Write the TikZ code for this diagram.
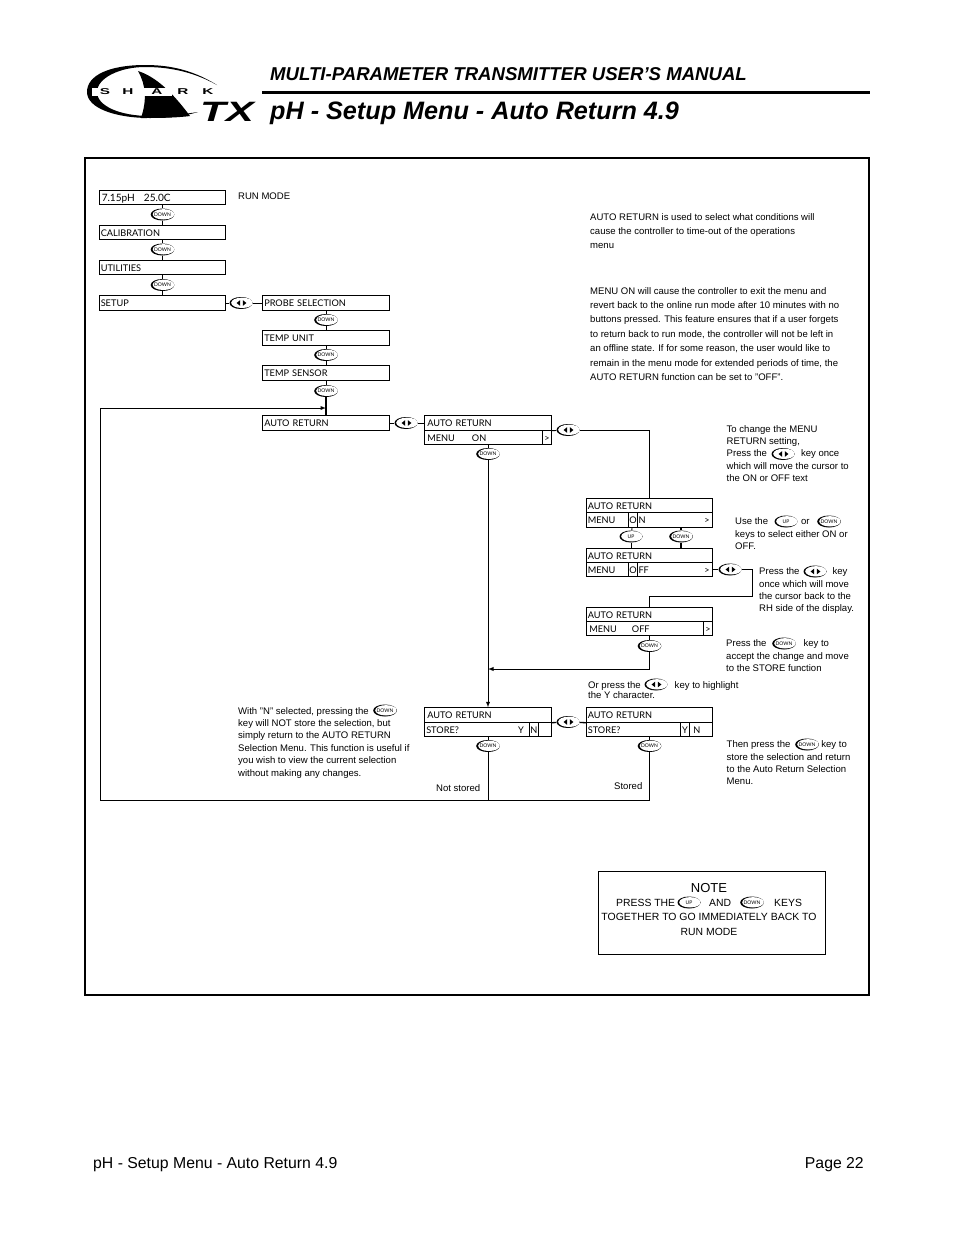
\documentclass[tikz,border=0pt]{standalone}
\usepackage{fontspec}
\setmainfont{Liberation Sans}
\newfontfamily\lcdfont{Lato}
\usetikzlibrary{shapes.geometric,positioning}
\newcommand{\fsize}[2]{\fontsize{#1}{#2}\selectfont}
\begin{document}
\begin{tikzpicture}[x=1pt,y=-1pt]
%%%%%%%%%%%%%%%%%%%%%%%%%%%%%%%%%%%%%%%%%%%%%%%%%%%%%%%%
% STYLE
\tikzstyle{lcd}=[rectangle,draw,line width=0.9,inner xsep=1.5,inner ysep=0,text width=123.5,minimum height=14.5,text height=9.2,text depth=2,font=\lcdfont\fsize{9.2}{11},align=left]
\tikzstyle{cur}=[rectangle,draw,line width=1.1,inner sep=0,minimum width=8.5,minimum height=14.5,text height=9.2,text depth=2,font=\lcdfont\fsize{9.2}{11}]
\tikzstyle{ch}=[inner sep=0,text height=9.2,text depth=2,font=\lcdfont\fsize{9.2}{11}]
\tikzstyle{kd}=[ellipse,fill=black,inner sep=0,minimum width=23,minimum height=12,text height=3,text depth=0,font=\lcdfont\fsize{5}{6},path picture={\fill[white] ([xshift=1pt,yshift=0.2pt]path picture bounding box.center) ellipse (10.8pt and 5.2pt);}]
\tikzstyle{klr}=[ellipse,fill=black,inner sep=0,minimum width=23,minimum height=12,path picture={\fill[white] ([xshift=1pt,yshift=0.2pt]path picture bounding box.center) ellipse (10.8pt and 5.2pt);
  \fill[shift={(path picture bounding box.center)}] (-4.4pt,0pt) -- (-0.9pt,-2.8pt) -- (-0.9pt,2.8pt) -- cycle (5.4pt,0pt) -- (1.9pt,-2.8pt) -- (1.9pt,2.8pt) -- cycle;}]
\tikzstyle{txt}=[anchor=north west,inner sep=0,align=left,font=\fsize{9.55}{12.4}]
\tikzstyle{txtb}=[txt,font=\fsize{9.55}{14.4}]
\tikzstyle{ln}=[line width=0.9]
\useasboundingbox (0,0) rectangle (954,1235);

%%%%%%%%%%%%%%%%%%%%%%%%%%%%%%%%%%%%%%%%%%%%%%%%%%%%%%%%
% HEADER
\fill (217,85) .. controls (190,68) and (165,65) .. (145,65) .. controls (110,65) and (87,75) .. (87,92) .. controls (87,108) and (115,118) .. (150,118) .. controls (170,118) and (185,116) .. (198,112) .. controls (185,114) and (170,116) .. (150,116) .. controls (120,116) and (97,106) .. (97,92) .. controls (97,78) and (120,67) .. (145,67) .. controls (165,67) and (190,70) .. (217,85) -- cycle;
\fill (138,71) .. controls (160,78) and (178,100) .. (190,116) .. controls (175,118) and (155,118) .. (141,118) .. controls (147,100) and (146,85) .. (138,71) -- cycle;
\fill[white] (92,88) rectangle (172,96);
\node[inner sep=0,xscale=1.8,font=\bfseries\fsize{8.5}{9}] (ls) at (105,92) {S};
\node[inner sep=0,xscale=1.8,font=\bfseries\fsize{8.5}{9}] (lh) at (128,92) {H};
\node[inner sep=0,xscale=1.8,font=\bfseries\fsize{8.5}{9}] (la) at (157,92) {A};
\node[inner sep=0,xscale=1.8,font=\bfseries\fsize{8.5}{9}] (lr) at (183,92) {R};
\node[inner sep=0,xscale=1.8,font=\bfseries\fsize{8.5}{9}] (lk) at (208,92) {K};
\node[inner sep=0,xscale=1.5,font=\bfseries\itshape\fsize{28}{30}] (ltx) at (227,112) {TX};
\draw[line width=3] (262,92) -- (870,92);
\node[anchor=base west,inner sep=0,font=\bfseries\itshape\fsize{18.6}{24}] (head) at (270,80) {MULTI-PARAMETER TRANSMITTER USER’S MANUAL};
\node[anchor=base west,inner sep=0,font=\bfseries\itshape\fsize{25.2}{30}] (title) at (270,119) {pH - Setup Menu - Auto Return 4.9};
\node[anchor=base west,inner sep=0,font=\fsize{15.8}{18}] (foot) at (93,1168) {pH - Setup Menu - Auto Return 4.9};
\node[anchor=base east,inner sep=0,font=\fsize{15.8}{18}] (page) at (864,1168) {Page 22};
\draw[line width=1.3] (85,158) rectangle (869,995);

%%%%%%%%%%%%%%%%%%%%%%%%%%%%%%%%%%%%%%%%%%%%%%%%%%%%%%%%
% NODES
\node[lcd,font=\lcdfont\fsize{10.1}{11}] (D0) at (162.5,197.5) {\hspace{1pt}7.15pH\hspace{9pt}25.0C};
\node[lcd] (D1) at (162.5,232.5) {CALIBRATION};
\node[lcd] (D2) at (162.5,267.5) {UTILITIES};
\node[lcd] (D3) at (162.5,303) {SETUP};

\node[lcd] (P0) at (326,303) {PROBE SELECTION};
\node[lcd] (P1) at (326,338) {TEMP UNIT};
\node[lcd] (P2) at (326,373) {TEMP SENSOR};
\node[lcd] (P3) at (326,423) {AUTO RETURN};

\node[lcd] (A0) at (488,423) {\hspace{1pt}AUTO RETURN};
\node[lcd] (A1) at (488,437.5) {\hspace{1pt}MENU\hspace{17pt}ON};
\node[cur] (Ac) at (547,437.5) {>};

\node[lcd] (B0) at (649.5,505.5) {AUTO RETURN};
\node[lcd] (B1) at (649.5,520) {MENU};
\node[cur] (Bc) at (633,520) {O};
\node[ch,right=0.5pt of Bc] (Bn) {N};
\node[ch] (Bg) at (707,520) {>};

\node[lcd] (C0) at (649.5,555.5) {AUTO RETURN};
\node[lcd] (C1) at (649.5,569.5) {MENU};
\node[cur] (Cc) at (633,569.5) {O};
\node[ch,right=0.5pt of Cc] (Cn) {FF};
\node[ch] (Cg) at (707,569.5) {>};

\node[lcd] (E0) at (649.5,614.5) {AUTO RETURN};
\node[lcd] (E1) at (649.5,628.5) {\hspace{1.5pt}MENU\hspace{15pt}OFF};
\node[cur] (Ec) at (708,628.5) {>};

\node[lcd] (S0) at (488,715) {\hspace{1pt}AUTO RETURN};
\node[lcd] (S1) at (488,729.5) {STORE?};
\node[ch] (Sy) at (521,729.5) {Y};
\node[cur] (Sc) at (534,729.5) {N};

\node[lcd] (T0) at (649.5,715) {AUTO RETURN};
\node[lcd] (T1) at (649.5,729.5) {STORE?};
\node[cur] (Tc) at (685,729.5) {Y};
\node[ch] (Tn) at (697,729.5) {N};

% KEYS
\node[kd] (K0) at (162.5,214.5) {DOWN};
\node[kd] (K1) at (162.5,249.5) {DOWN};
\node[kd] (K2) at (162.5,285) {DOWN};
\node[kd] (K3) at (326,320) {DOWN};
\node[kd] (K4) at (326,355) {DOWN};
\node[kd] (K5) at (326,391) {DOWN};
\node[kd] (K6) at (488,454) {DOWN};
\node[kd] (K7) at (681,536.5) {DOWN};
\node[kd] (K8) at (649.5,646) {DOWN};
\node[kd] (K9) at (488,746) {DOWN};
\node[kd] (K10) at (649.5,746) {DOWN};
\node[kd] (Ku) at (631,536.5) {UP};
\node[klr] (L0) at (241,303) {};
\node[klr] (L1) at (406,423) {};
\node[klr] (L2) at (568,430) {};
\node[klr] (L3) at (730,569.5) {};
\node[klr] (L4) at (568,722) {};

\coordinate (J0) at (752,596);
\coordinate (J1) at (488,669);
\coordinate (J2) at (488,800);
\coordinate (J3) at (100,800);
\coordinate (J4) at (100,408);
\coordinate (J5) at (326,408);

% TEXTS
\node[txt,anchor=base west] (t0) at (238,199.5) {RUN MODE};
\node[txtb] (t1) at (590,213) {AUTO RETURN is used to select what conditions will\\cause the controller to time-out of the operations\\menu};
\node[txtb] (t2) at (590,287) {MENU ON will cause the controller to exit the menu and\\revert back to the online run mode after 10 minutes with no\\buttons pressed. This feature ensures that if a user forgets\\to return back to run mode, the controller will not be left in\\an offline state. If for some reason, the user would like to\\remain in the menu mode for extended periods of time, the\\AUTO RETURN function can be set to "OFF".};
\node[txt] (t3) at (726.5,425) {To change the MENU\\RETURN setting,\\Press the\hspace{34pt}key once\\which will move the cursor to\\the ON or OFF text};
\node[klr] (k3) at (783,454) {};
\node[txt] (t4) at (735,517.5) {Use the\hspace{33pt}or\\keys to select either ON or\\OFF.};
\node[kd] (k4a) at (786,521.5) {UP};
\node[kd] (k4b) at (829,521.5) {DOWN};
\node[txt] (t5) at (759,567.5) {Press the\hspace{33pt}key\\once which will move\\the cursor back to the\\RH side of the display.};
\node[klr] (k5) at (815,571.5) {};
\node[txt] (t6) at (726,639.5) {Press the\hspace{37pt}key to\\accept the change and move\\to the STORE function};
\node[kd] (k6) at (784,643.5) {DOWN};
\node[txt,font=\fsize{9.55}{10.6}] (t7) at (588,681) {Or press the\hspace{34pt}key to highlight\\the Y character.};
\node[klr] (k7) at (656,684.5) {};
\node[txt] (t8) at (726.5,740.5) {Then press the\hspace{31pt}key to\\store the selection and return\\to the Auto Return Selection\\Menu.};
\node[kd] (k8) at (807,744.5) {DOWN};
\node[txt] (t9) at (238,707) {With "N" selected, pressing the\\key will NOT store the selection, but\\simply return to the AUTO RETURN\\Selection Menu. This function is useful if\\you wish to view the current selection\\without making any changes.};
\node[kd] (k9) at (385,710.5) {DOWN};
\node[txt,anchor=base west] (t10) at (436,791) {Not stored};
\node[txt,anchor=base west] (t11) at (614,789) {Stored};

% NOTE
\draw[line width=1] (598,871) rectangle (825,954);
\node[inner sep=0,font=\fsize{13}{15}] (n0) at (709,888) {NOTE};
\node[txt,anchor=base west,font=\fsize{10.4}{12}] (n1) at (616,906) {PRESS THE};
\node[kd] (n2) at (689,902.5) {UP};
\node[txt,anchor=base west,font=\fsize{10.4}{12}] (n3) at (709,906) {AND};
\node[kd] (n4) at (752,902.5) {DOWN};
\node[txt,anchor=base west,font=\fsize{10.4}{12}] (n5) at (774,906) {KEYS};
\node[inner sep=0,font=\fsize{10.45}{12}] (n6) at (709,917) {TOGETHER TO GO IMMEDIATELY BACK TO};
\node[inner sep=0,font=\fsize{10.4}{12}] (n7) at (709,932) {RUN MODE};

%%%%%%%%%%%%%%%%%%%%%%%%%%%%%%%%%%%%%%%%%%%%%%%%%%%%%%%%
% LINKS
\draw[ln] (D0) -- (K0);
\draw[ln] (K0) -- (D1);
\draw[ln] (D1) -- (K1);
\draw[ln] (K1) -- (D2);
\draw[ln] (D2) -- (K2);
\draw[ln] (K2) -- (D3);
\draw[ln] (D3) -- (L0);
\draw[ln] (L0) -- (P0);

\draw[ln] (P0) -- (K3);
\draw[ln] (K3) -- (P1);
\draw[ln] (P1) -- (K4);
\draw[ln] (K4) -- (P2);
\draw[ln] (P2) -- (K5);
\draw[ln,line width=1.3] (K5) -- (P3);
\draw[ln] (P3) -- (L1);
\draw[ln] (L1) -- (A0);

\draw[ln] (A0.south east) -- (L2);
\draw[ln] (L2.east) -| (B0.north);
\draw[ln] (A1) -- (K6);
\draw[ln,-latex] (K6) -- (S0);

\draw[ln] (Bc) -- (Ku);
\draw[ln] (Ku) -- (Ku |- C0.north);
\draw[ln,line width=1.3] (K7 |- B1.south) -- (K7);
\draw[ln,line width=1.3] (K7) -- (K7 |- C0.north);

\draw[ln] (C1) -- (L3);
\draw[ln] (L3.east) -| (J0) -| (E0.north);
\draw[ln] (E1) -- (K8);
\draw[ln,-latex] (K8) |- (J1);

\draw[ln,line width=1.3] (S0.south east) -- (L4);
\draw[ln,line width=1.3] (L4) -- (T0.south west);

\draw[ln] (S1) -- (K9);
\draw[ln] (T1) -- (K10);
\draw[ln] (K9) -- (J2);
\draw[ln] (K10) |- (J3) -- (J4);
\draw[ln,-latex] (J4) -- (J5);

\end{tikzpicture}
\end{document}
